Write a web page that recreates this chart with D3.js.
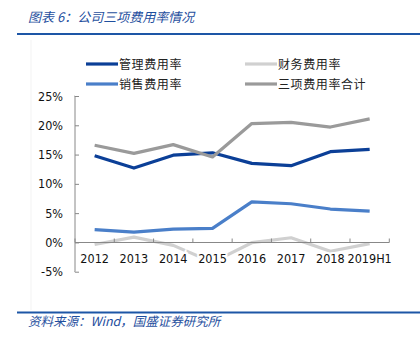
<!DOCTYPE html>
<html>
<head>
<meta charset="utf-8">
<script src="https://cdn.jsdelivr.net/npm/d3@7"></script>
<style>
  html, body { margin: 0; padding: 0; background: #fff; }
  svg { display: block; }
</style>
</head>
<body>
<svg id="chart" width="420" height="349"></svg>
<script>
// Expense ratios by year (%)
const years = ["2012", "2013", "2014", "2015", "2016", "2017", "2018", "2019H1"];
const adminRate = [14.8, 12.7, 14.9, 15.3, 13.5, 13.1, 15.5, 15.9];
const financeRate = [-0.35, 0.9, -0.5, -3.4, -0.05, 0.8, -1.5, -0.2];
const salesRate = [2.2, 1.76, 2.27, 2.39, 6.93, 6.6, 5.7, 5.34];
const totalRate = [16.6, 15.2, 16.7, 14.6, 20.3, 20.5, 19.7, 21.1];
const yTicks = [-5, 0, 5, 10, 15, 20, 25];

const seriesNames = ["管理费用率", "财务费用率", "销售费用率", "三项费用率合计"];
const seriesValues = [adminRate, financeRate, salesRate, totalRate];
const seriesColors = ["#0b3f97", "#d0d0d0", "#4a7fc9", "#9a9a9a"];

const svg = d3.select("#chart");
const cjk = "'Noto Sans CJK SC', 'Noto Sans', sans-serif";
const numFont = "'DejaVu Sans Condensed', 'DejaVu Sans', sans-serif";
const blue = "#1f4f9e";

// faint page guide at left
svg.append("line").attr("x1", 31).attr("x2", 31).attr("y1", 40).attr("y2", 310)
  .attr("stroke", "#f3f3f3").attr("stroke-width", 1);

// title and rules
svg.append("text").attr("x", 28).attr("y", 22)
  .attr("font-family", cjk).attr("font-size", 13).attr("font-style", "italic")
  .attr("fill", blue).text("图表 6：公司三项费用率情况");
svg.append("rect").attr("x", 17).attr("y", 33).attr("width", 403).attr("height", 2).attr("fill", "#1d56a6");
svg.append("rect").attr("x", 17).attr("y", 311.5).attr("width", 403).attr("height", 2).attr("fill", "#1d56a6");
svg.append("text").attr("x", 28).attr("y", 326)
  .attr("font-family", cjk).attr("font-size", 12.5).attr("font-style", "italic")
  .attr("fill", blue).text("资料来源：Wind，国盛证券研究所");

// scales
const x = d3.scaleBand().domain(years).range([75, 389.3]);
const y = d3.scaleLinear().domain([-5, 25]).range([271.7, 96]);

// y axis (inner ticks)
const yAxis = svg.append("g").attr("transform", "translate(75,0)")
  .call(d3.axisLeft(y).tickValues(yTicks).tickSize(-4).tickPadding(12).tickFormat(d => d + "%"));
yAxis.select(".domain").attr("stroke", "#888").attr("d", `M-0.5,${y(-5)}H0V${y(25)}H-0.5`);
yAxis.selectAll(".tick line").attr("stroke", "#888");
yAxis.selectAll("text").attr("font-family", numFont).attr("font-size", 12.5).attr("fill", "#111");

// series lines
const line = d3.line().x((d, i) => x(years[i]) + x.bandwidth() / 2).y(d => y(d));
seriesValues.forEach((vals, k) => {
  svg.append("path").datum(vals).attr("d", line)
    .attr("fill", "none").attr("stroke", seriesColors[k]).attr("stroke-width", 3.2)
    .attr("stroke-linejoin", "round");
});

// x axis at zero with ticks at category boundaries
const y0 = Math.round(y(0)) + 0.5;
const xg = svg.append("g");
xg.append("line").attr("x1", 75).attr("x2", 389.3).attr("y1", y0).attr("y2", y0).attr("stroke", "#888");
years.concat(["end"]).forEach((yr, i) => {
  const xx = 75 + i * x.bandwidth();
  xg.append("line").attr("x1", xx).attr("x2", xx).attr("y1", y0).attr("y2", y0 - 4).attr("stroke", "#888");
});
xg.selectAll("text.xl").data(years).enter().append("text")
  .attr("class", "xl")
  .attr("x", d => x(d) + x.bandwidth() / 2).attr("y", 263)
  .attr("text-anchor", "middle")
  .attr("font-family", numFont).attr("font-size", 12.5).attr("fill", "#111")
  .attr("stroke", "#fff").attr("stroke-width", 4).attr("paint-order", "stroke")
  .text(d => d);

// legend in two columns
const legendPos = [[86, 64], [245, 64], [86, 84], [245, 84]];
seriesNames.forEach((name, k) => {
  const [lx, ly] = legendPos[k];
  svg.append("line").attr("x1", lx).attr("x2", lx + 32).attr("y1", ly).attr("y2", ly)
    .attr("stroke", seriesColors[k]).attr("stroke-width", 3.2);
  svg.append("text").attr("x", lx + 33).attr("y", ly + 4.5)
    .attr("font-family", cjk).attr("font-size", 12).attr("letter-spacing", 0.6)
    .attr("fill", "#222").text(name);
});
</script>
</body>
</html>
